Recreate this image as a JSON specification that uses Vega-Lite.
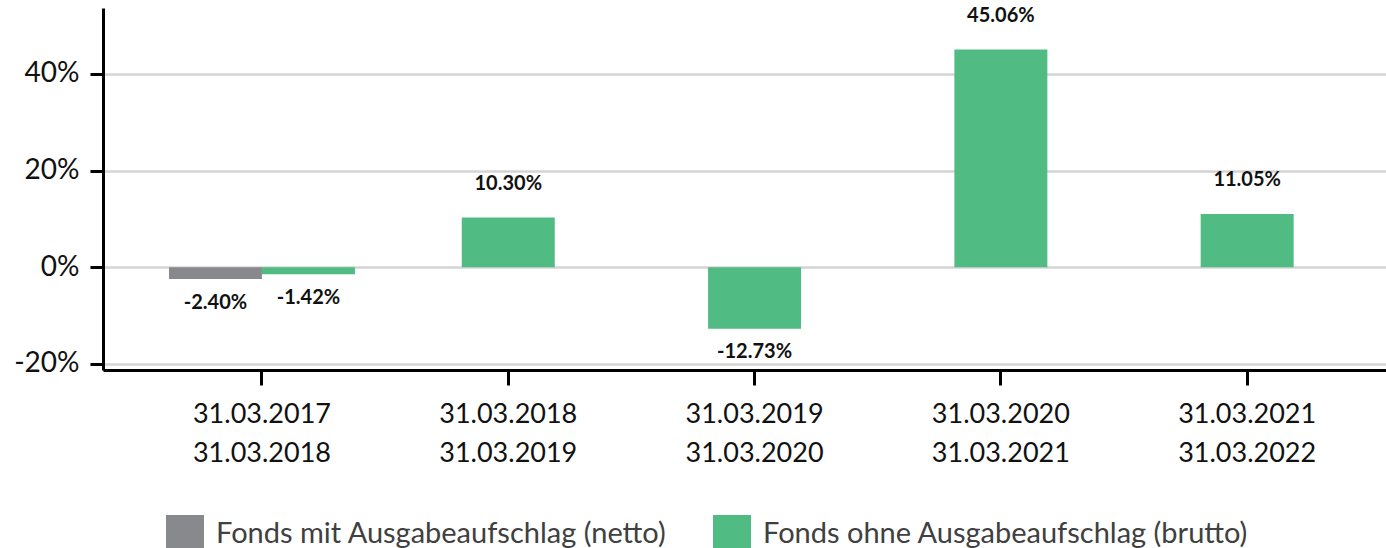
{
  "$schema": "https://vega.github.io/schema/vega-lite/v6.json",
  "autosize": "none",
  "width": 1283,
  "height": 362,
  "padding": {"left": 103, "top": 8, "right": 0, "bottom": 178},
  "background": "white",
  "config": {
    "font": "Lato",
    "locale": {"number": {"decimal": ".", "thousands": ",", "grouping": [3], "currency": ["", ""], "minus": "-"}},
    "view": {"stroke": null},
    "axis": {"labelFont": "Lato", "labelColor": "#111111", "titleFont": "Lato"},
    "legend": {"labelFont": "Lato"}
  },
  "data": {
    "values": [
      {"period": "31.03.2017|31.03.2018", "series": "Fonds mit Ausgabeaufschlag (netto)", "value": -0.0240},
      {"period": "31.03.2017|31.03.2018", "series": "Fonds ohne Ausgabeaufschlag (brutto)", "value": -0.0142},
      {"period": "31.03.2018|31.03.2019", "series": "Fonds ohne Ausgabeaufschlag (brutto)", "value": 0.1030},
      {"period": "31.03.2019|31.03.2020", "series": "Fonds ohne Ausgabeaufschlag (brutto)", "value": -0.1273},
      {"period": "31.03.2020|31.03.2021", "series": "Fonds ohne Ausgabeaufschlag (brutto)", "value": 0.4506},
      {"period": "31.03.2021|31.03.2022", "series": "Fonds ohne Ausgabeaufschlag (brutto)", "value": 0.1105}
    ]
  },
  "transform": [
    {"joinaggregate": [{"op": "count", "as": "n"}], "groupby": ["period"]}
  ],
  "encoding": {
    "x": {
      "field": "period",
      "type": "nominal",
      "sort": null,
      "scale": {"paddingInner": 0.245, "paddingOuter": 0.227, "align": 0.59},
      "axis": {
        "title": null,
        "labelAngle": 0,
        "labelExpr": "split(datum.label, '|')",
        "labelFontSize": 27,
        "labelLineHeight": 39,
        "labelPadding": 16,
        "labelColor": "#111111",
        "domainColor": "#000000",
        "domainWidth": 3,
        "tickColor": "#000000",
        "tickWidth": 3,
        "tickSize": 15,
        "grid": false
      }
    },
    "y": {
      "field": "value",
      "type": "quantitative",
      "scale": {"domain": [-0.2125, 0.5365], "nice": false, "zero": false},
      "axis": {
        "title": null,
        "values": [-0.2, 0, 0.2, 0.4],
        "format": ".0%",
        "labelFontSize": 28,
        "labelPadding": 11,
        "labelColor": "#111111",
        "domainColor": "#000000",
        "domainWidth": 3,
        "tickColor": "#000000",
        "tickWidth": 3,
        "tickSize": 13,
        "grid": true,
        "gridColor": "#d4d4d4",
        "gridWidth": 2.5
      }
    }
  },
  "layer": [
    {
      "transform": [{"filter": "datum.n == 2"}],
      "mark": {"type": "bar"},
      "encoding": {
        "xOffset": {"field": "series", "type": "nominal", "sort": null, "scale": {"paddingInner": 0, "paddingOuter": 0}},
        "color": {
          "field": "series",
          "type": "nominal",
          "scale": {
            "domain": ["Fonds mit Ausgabeaufschlag (netto)", "Fonds ohne Ausgabeaufschlag (brutto)"],
            "range": ["#88898d", "#50bb83"]
          },
          "legend": {
            "title": null,
            "orient": "none",
            "direction": "horizontal",
            "legendX": 63,
            "legendY": 507,
            "padding": 0,
            "symbolType": "square",
            "symbolSize": 1444,
            "symbolStrokeWidth": 0,
            "symbolOpacity": 1,
            "labelFontSize": 29,
            "labelColor": "#404040",
            "labelOffset": 12,
            "labelLimit": 0,
            "columnPadding": 46
          }
        }
      }
    },
    {
      "transform": [{"filter": "datum.n == 1"}],
      "mark": {"type": "bar", "width": {"band": 0.5}},
      "encoding": {
        "color": {"field": "series", "type": "nominal"}
      }
    },
    {
      "transform": [{"filter": "datum.n == 2 && datum.value < 0"}],
      "mark": {"type": "text", "baseline": "middle", "dy": 24, "fontSize": 20, "fontWeight": "bold", "color": "#111111"},
      "encoding": {
        "xOffset": {"field": "series", "type": "nominal", "sort": null},
        "text": {"field": "value", "type": "quantitative", "format": ".2%"}
      }
    },
    {
      "transform": [{"filter": "datum.n == 2 && datum.value >= 0"}],
      "mark": {"type": "text", "baseline": "middle", "dy": -34, "fontSize": 20, "fontWeight": "bold", "color": "#111111"},
      "encoding": {
        "xOffset": {"field": "series", "type": "nominal", "sort": null},
        "text": {"field": "value", "type": "quantitative", "format": ".2%"}
      }
    },
    {
      "transform": [{"filter": "datum.n == 1 && datum.value < 0"}],
      "mark": {"type": "text", "baseline": "middle", "dy": 23, "fontSize": 20, "fontWeight": "bold", "color": "#111111"},
      "encoding": {
        "text": {"field": "value", "type": "quantitative", "format": ".2%"}
      }
    },
    {
      "transform": [{"filter": "datum.n == 1 && datum.value >= 0"}],
      "mark": {"type": "text", "baseline": "middle", "dy": -34, "fontSize": 20, "fontWeight": "bold", "color": "#111111"},
      "encoding": {
        "text": {"field": "value", "type": "quantitative", "format": ".2%"}
      }
    }
  ]
}
